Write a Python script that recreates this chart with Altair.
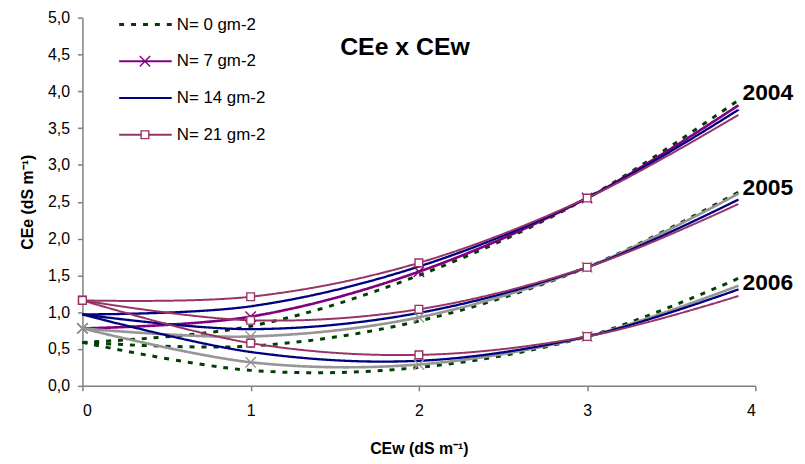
import altair as alt
import pandas as pd

# ---------------- data ----------------
cew = [0, 1, 2, 3, 3.9]
n_labels = ["N= 0 gm-2", "N= 7 gm-2", "N= 14 gm-2", "N= 21 gm-2"]
years = ["2004", "2005", "2006"]

y2004_n0 = [0.59, 0.81, 1.50, 2.55, 3.88]
y2004_n7 = [0.78, 0.94, 1.55, 2.55, 3.81]
y2004_n14 = [0.97, 1.08, 1.62, 2.55, 3.75]
y2004_n21 = [1.16, 1.21, 1.67, 2.55, 3.68]

y2005_n0 = [0.59, 0.54, 0.88, 1.61, 2.63]
y2005_n7 = [0.78, 0.67, 0.93, 1.61, 2.61]
y2005_n14 = [0.97, 0.77, 0.99, 1.61, 2.53]
y2005_n21 = [1.16, 0.89, 1.04, 1.61, 2.47]

y2006_n0 = [0.59, 0.21, 0.25, 0.67, 1.46]
y2006_n7 = [0.78, 0.32, 0.29, 0.67, 1.36]
y2006_n14 = [0.97, 0.46, 0.34, 0.67, 1.31]
y2006_n21 = [1.16, 0.58, 0.42, 0.67, 1.22]

year_label_y = [3.98, 2.68, 1.39]
year_label_x = [3.9, 3.9, 3.9]

y_ticks = [0, 0.5, 1, 1.5, 2, 2.5, 3, 3.5, 4, 4.5, 5]
x_ticks = [0, 1, 2, 3, 4]

# ---------------- build table ----------------
series_values = {
    "2004": [y2004_n0, y2004_n7, y2004_n14, y2004_n21],
    "2005": [y2005_n0, y2005_n7, y2005_n14, y2005_n21],
    "2006": [y2006_n0, y2006_n7, y2006_n14, y2006_n21],
}

GREEN, PURPLE, BLUE, MAUVE, GRAY = "#003f00", "#800080", "#000080", "#993366", "#969696"

rows = []
series_domain, series_colors = [], []
for yr in years:
    for n, vals in zip(n_labels, series_values[yr]):
        key = f"{yr} {n}"
        series_domain.append(key)
        if n == n_labels[0]:
            c = GREEN
        elif n == n_labels[1]:
            c = PURPLE if yr == "2004" else GRAY
        elif n == n_labels[2]:
            c = BLUE
        else:
            c = MAUVE
        series_colors.append(c)
        for xv, yv in zip(cew, vals):
            rows.append({"year": yr, "N": n, "series": key, "x": xv, "y": yv})
df = pd.DataFrame(rows)

color_scale = alt.Scale(domain=series_domain, range=series_colors)

x_axis = alt.Axis(values=x_ticks, format="d", title="CEw (dS m⁻¹)",
                  labelPadding=12, titlePadding=22, labelFontSize=16,
                  labelOverlap=False, titleFontSize=16, titleFontWeight="bold")
y_axis = alt.Axis(values=y_ticks, tickCount=11,
                  labelExpr="replace(format(datum.value, '.1f'), '.', ',')",
                  title="CEe (dS m⁻¹)", labelPadding=8, titlePadding=12,
                  labelOverlap=False, labelFontSize=16, titleFontSize=16,
                  titleFontWeight="bold")
x_scale = alt.Scale(domain=[0, 4], nice=False)
y_scale = alt.Scale(domain=[0, 5], nice=False)


def X():
    return alt.X("x:Q", scale=x_scale, axis=x_axis)


def Y():
    return alt.Y("y:Q", scale=y_scale, axis=y_axis)


lines = alt.Chart(df).mark_line(interpolate="cardinal", strokeCap="butt").encode(
    x=X(),
    y=Y(),
    color=alt.Color("series:N", scale=color_scale, legend=None),
    strokeDash=alt.StrokeDash("N:N", scale=alt.Scale(domain=n_labels,
                              range=[[5, 7], [1, 0], [1, 0], [1, 0]]), legend=None),
    strokeWidth=alt.StrokeWidth("N:N", scale=alt.Scale(domain=n_labels, range=[3, 2, 2, 2]),
                                legend=None),
    detail="series:N",
    order="x:Q",
)

xmarks = alt.Chart(df).transform_filter(
    (alt.datum.N == n_labels[1]) & (alt.datum.x <= 3)
).mark_point(shape="M-1,-1L1,1M-1,1L1,-1", filled=False, size=110, strokeWidth=1.4,
             opacity=1).encode(
    x=X(), y=Y(),
    color=alt.Color("series:N", scale=color_scale, legend=None),
)

squares = alt.Chart(df).transform_filter(
    (alt.datum.N == n_labels[3]) & (alt.datum.x <= 3)
).mark_point(shape="square", filled=False, fill="white", fillOpacity=1, size=60,
             strokeWidth=1.4, opacity=1).encode(
    x=X(), y=Y(),
    color=alt.Color("series:N", scale=color_scale, legend=None),
)

ann_df = pd.DataFrame({"label": years, "x": year_label_x, "y": year_label_y})
year_text = alt.Chart(ann_df).mark_text(align="left", baseline="middle", dx=4,
                                        fontSize=23, fontWeight="bold", color="black").encode(
    x=X(), y=Y(), text="label:N")

title = alt.Chart(pd.DataFrame({"t": ["CEe x CEw"]})).mark_text(
    fontSize=25, fontWeight="bold", align="center", baseline="middle", color="black"
).encode(x=alt.value(325), y=alt.value(30), text="t:N")

# ---------------- legend (drawn manually, top-left inside the plot) ----------------
leg_colors = [GREEN, PURPLE, BLUE, MAUVE]
leg_layers = []
for i, lab in enumerate(n_labels):
    ly = 7 + 37 * i
    ldf = pd.DataFrame({"label": [lab]})
    dash = [5, 7] if i == 0 else [1, 0]
    sw = 3 if i == 0 else 2
    leg_layers.append(
        alt.Chart(ldf).mark_rule(color=leg_colors[i], strokeWidth=sw, strokeDash=dash,
                                 strokeCap="butt").encode(
            x=alt.value(37), x2=alt.value(90), y=alt.value(ly))
    )
    if i == 1:
        leg_layers.append(
            alt.Chart(ldf).mark_point(shape="M-1,-1L1,1M-1,1L1,-1", filled=False, size=110,
                                      strokeWidth=1.4, color=PURPLE, opacity=1).encode(
                x=alt.value(63), y=alt.value(ly))
        )
    if i == 3:
        leg_layers.append(
            alt.Chart(ldf).mark_point(shape="square", filled=False, fill="white",
                                      fillOpacity=1, size=60, strokeWidth=1.4, color=MAUVE,
                                      opacity=1).encode(
                x=alt.value(63), y=alt.value(ly))
        )
    leg_layers.append(
        alt.Chart(ldf).mark_text(align="left", baseline="middle", fontSize=17,
                                 color="black").encode(
            x=alt.value(95), y=alt.value(ly), text="label:N")
    )

chart = alt.layer(lines, xmarks, squares, year_text, title, *leg_layers).properties(
    width=678, height=371,
    autosize=alt.AutoSizeParams(type="none"),
    padding={"left": 75, "top": 8, "right": 42, "bottom": 70},
).configure_view(stroke=None).configure_axis(
    grid=False, domainColor="#808080", tickColor="#808080", domainWidth=1.5,
    tickWidth=1.5, tickSize=5, labelColor="black", titleColor="black",
    labelFont="Liberation Sans", titleFont="Liberation Sans",
).configure_text(font="Liberation Sans")

chart.save("out.html", embed_options={"renderer": "svg", "actions": False})
